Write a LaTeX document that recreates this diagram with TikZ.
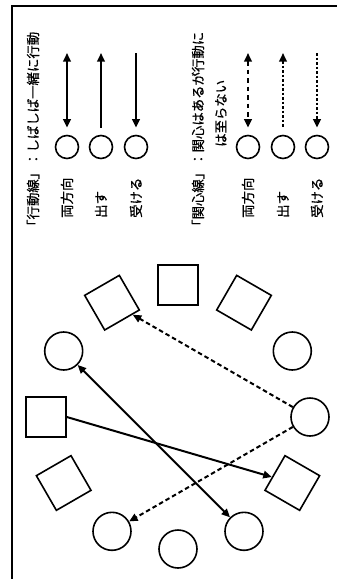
\documentclass[tikz,border=0pt]{standalone}
\usepackage{fontspec}
\setmainfont{Noto Sans CJK JP}[FakeBold=0.7]
\usetikzlibrary{arrows.meta,calc}
\begin{document}
\begin{tikzpicture}[x=1pt,y=-1pt,
  >={Triangle[length=8.5pt,width=7.5pt]},
  outline/.style={draw, line width=1.6pt},
  sqbox/.style={outline, rectangle, minimum size=40pt, inner sep=0pt},
  ring/.style={outline, circle, minimum size=38pt, inner sep=0pt},
  keyring/.style={outline, circle, minimum size=23pt, inner sep=0pt},
  actline/.style={line width=2pt},
  careline/.style={line width=2pt, dash pattern=on 4.5pt off 3pt},
  carelong/.style={line width=2pt, dash pattern=on 4.5pt off 4pt},
  caredot/.style={line width=2pt, dash pattern=on 2.5pt off 2pt},
  vtext/.style={rotate=90, anchor=west, inner sep=0pt, font=\fontsize{13.4}{16}\selectfont},
]
\useasboundingbox (0,0) rectangle (337,579);

% frame (top and left edges)
\draw[line width=1.8pt] (12,590) -- (12,6) -- (345,6);

% ---- legend: action lines ----
\node[vtext] (t1) at (33,233) {「行動線」：しばしば一緒に行動};
\foreach \n/\x/\lab in {a/67/両方向, b/101/出す, c/136/受ける}{
  \node[keyring] (k\n) at (\x,147) {};
  \node[vtext] (l\n) at (\x,218) {\lab};
  \coordinate (e\n) at (\x,53);
}
\draw[actline,<->] (ea) -- ([yshift=7pt]ka.north);
\draw[actline,<-]  (eb) -- ([yshift=7pt]kb.north);
\draw[actline,->]  (ec) -- ([yshift=7pt]kc.north);

% ---- legend: interest lines ----
\node[vtext] (t2) at (198,233) {「関心線」：関心はあるが行動に};
\node[vtext] (t2b) at (221,147) {は至らない};
\foreach \n/\x/\lab in {d/248/両方向, e/283/出す, f/317/受ける}{
  \node[keyring] (k\n) at (\x,147) {};
  \node[vtext] (l\n) at (\x,218) {\lab};
  \coordinate (e\n) at (\x,53);
}
\draw[carelong,<->] (ed) -- ([yshift=7pt]kd.north);
\draw[caredot,<-]   (ee) -- ([yshift=7pt]ke.north);
\draw[caredot,->]   (ef) -- ([yshift=7pt]kf.north);

% ---- group of twelve members ----
\coordinate (C) at (178,417);
\node[ring]  (m0)   at ($(C)+(0:132)$) {};
\node[ring]  (m30)  at ($(C)+(-30:132)$) {};
\node[sqbox,rotate=-30] (m60) at ($(C)+(-60:132)$) {};
\node[sqbox] (m90)  at ($(C)+(-90:132)$) {};
\node[sqbox,rotate=30]  (m120) at ($(C)+(-120:132)$) {};
\node[ring]  (m150) at ($(C)+(-150:132)$) {};
\node[sqbox] (m180) at ($(C)+(-180:132)$) {};
\node[sqbox,rotate=30]  (m210) at ($(C)+(-210:132)$) {};
\node[ring]  (m240) at ($(C)+(-240:132)$) {};
\node[ring]  (m270) at ($(C)+(-270:132)$) {};
\node[ring]  (m300) at ($(C)+(-300:132)$) {};
\node[sqbox,rotate=-30] (m330) at ($(C)+(-330:132)$) {};

% relations
\draw[actline,->]  (m180.east) -- (m330);
\draw[actline,<->] (m150) -- (m300);
\draw[careline,->] (m0) -- (m120);
\draw[careline,->] (m0) -- (m240);
\end{tikzpicture}
\end{document}
